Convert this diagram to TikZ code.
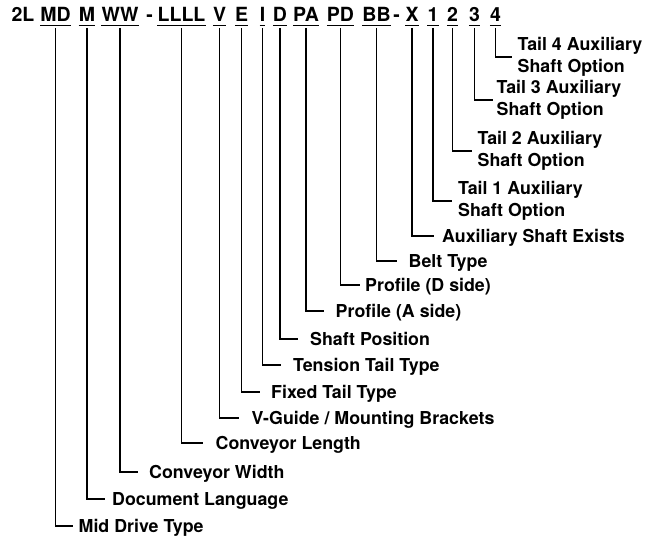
\documentclass[tikz,border=0pt]{standalone}
\usepackage{fontspec}
\setmainfont{TeX Gyre Heros}
\begin{document}
\begin{tikzpicture}[x=1pt,y=-1pt,
  hdr/.style={inner sep=0pt, anchor=base, font=\fontsize{19.5}{22}\selectfont\bfseries},
  lbl/.style={anchor=west, inner ysep=0pt, text height=12.8pt, text depth=0pt, font=\fontsize{17.8}{21}\selectfont\bfseries},
  lbltwo/.style={anchor=west, inner ysep=0pt, align=left, font=\fontsize{17.8}{21.5}\selectfont\bfseries},
  ln/.style={line width=1.2pt},
  ]
\useasboundingbox (0,0) rectangle (647,540);

% header tokens
\node[hdr] (h2L) at (23,22) {2L};
\node[hdr] (hMD) at (55.5,22) {MD};
\node[hdr] (hM) at (87,22) {M};
\node[hdr] (hWW) at (120,22) {WW};
\node[hdr] (hdashA) at (149.5,22) {-};
\node[hdr] (hL) at (181.5,22) {LLLL};
\node[hdr] (hV) at (219.5,22) {V};
\node[hdr] (hE) at (241.5,22) {E};
\node[hdr] (hI) at (262.5,22) {I};
\node[hdr] (hD) at (280,22) {D};
\node[hdr] (hPA) at (306,22) {PA};
\node[hdr] (hPD) at (340.5,22) {PD};
\node[hdr] (hBB) at (376.5,22) {BB};
\node[hdr] (hdashB) at (396.5,22) {-};
\node[hdr] (hX) at (412,22) {X};
\node[hdr] (h1) at (433,22) {1};
\node[hdr] (h2) at (452.5,22) {2};
\node[hdr] (h3) at (474.5,22) {3};
\node[hdr] (h4) at (495.5,22) {4};

% underlines
\foreach \n in {hMD,hM,hWW,hL,hV,hE,hI,hD,hPA,hPD,hBB,hX,h1,h2,h3,h4}
  \draw[ln] ([yshift=-3.6pt]\n.base west) -- ([yshift=-3.6pt]\n.base east);

% labels
\node[lbl, inner xsep=5.5pt] (lMD) at (73,526) {Mid Drive Type};
\node[lbl, inner xsep=7pt] (lM) at (105,499) {Document Language};
\node[lbl, inner xsep=11pt] (lWW) at (138,472) {Conveyor Width};
\node[lbl, inner xsep=12.5pt] (lL) at (203,443) {Conveyor Length};
\node[lbl, inner xsep=12.5pt] (lV) at (239,418) {V-Guide / Mounting Brackets};
\node[lbl, inner xsep=11pt] (lE) at (260,392) {Fixed Tail Type};
\node[lbl, inner xsep=12pt] (lI) at (281,365) {Tension Tail Type};
\node[lbl, inner xsep=12pt] (lD) at (298,339) {Shaft Position};
\node[lbl, inner xsep=12pt] (lPA) at (323.5,311) {Profile (A side)};
\node[lbl, inner xsep=5pt] (lPD) at (360,285) {Profile (D side)};
\node[lbl, inner xsep=12pt] (lBB) at (396.5,261) {Belt Type};
\node[lbl, inner xsep=8pt] (lX) at (434,236) {Auxiliary Shaft Exists};
\node[lbltwo, inner xsep=6pt] (l1) at (452,201) {Tail 1 Auxiliary\\Shaft Option};
\node[lbltwo, inner xsep=5.5pt] (l2) at (472,151) {Tail 2 Auxiliary\\Shaft Option};
\node[lbltwo, inner xsep=4pt] (l3) at (492.5,100) {Tail 3 Auxiliary\\Shaft Option};
\node[lbltwo, inner xsep=5.5pt] (l4) at (512,57) {Tail 4 Auxiliary\\Shaft Option};

% connectors
\foreach \a/\b in {hMD/lMD,hM/lM,hWW/lWW,hL/lL,hV/lV,hE/lE,hI/lI,hD/lD,hPA/lPA,hPD/lPD,hBB/lBB,hX/lX,h1/l1,h2/l2,h3/l3,h4/l4}
  \draw[ln] ([yshift=-6pt]\a.base) |- (\b.west);
\end{tikzpicture}
\end{document}
